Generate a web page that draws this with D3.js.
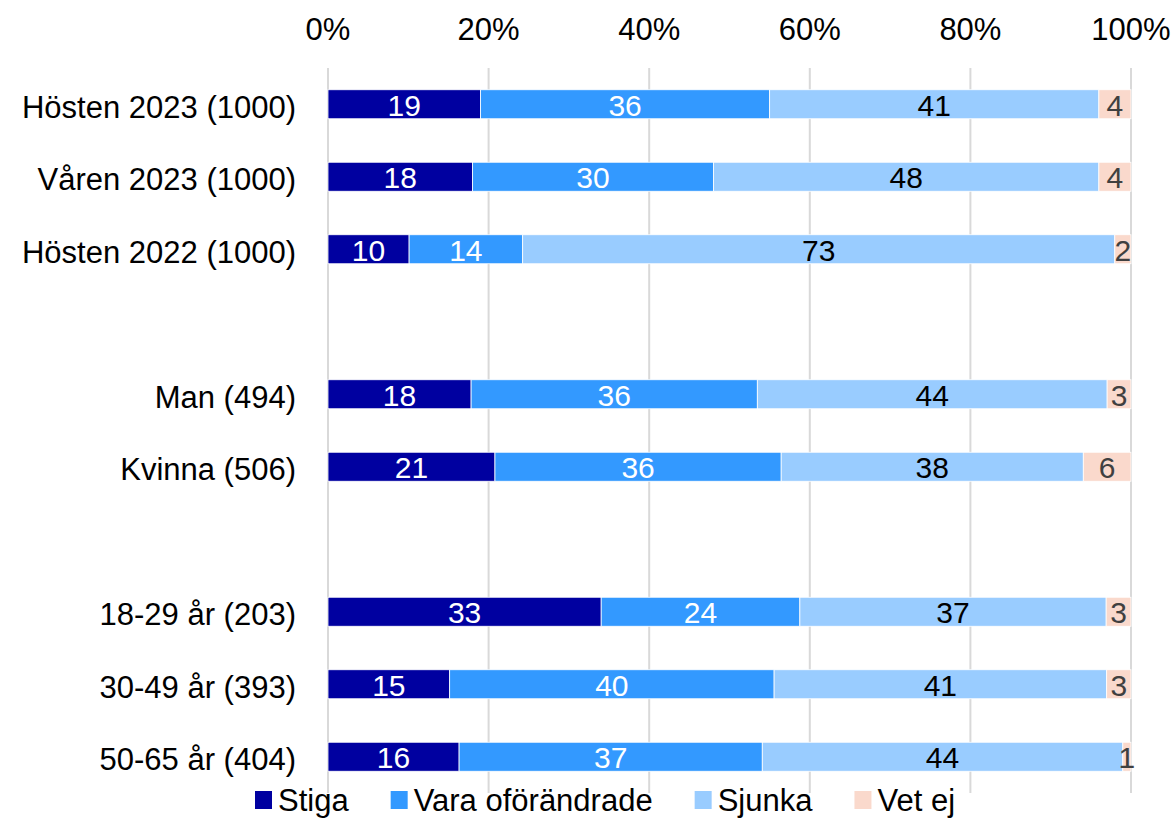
<!DOCTYPE html>
<html>
<head>
<meta charset="utf-8">
<script src="https://cdn.jsdelivr.net/npm/d3@7"></script>
<style>
  body { margin: 0; background: #fff; }
  svg { display: block; font-family: "Liberation Sans", Arial, sans-serif; }
</style>
</head>
<body>
<svg id="chart" width="1176" height="819"></svg>
<script>
const categories = ['Hösten 2023 (1000)', 'Våren 2023 (1000)', 'Hösten 2022 (1000)', '', 'Man (494)', 'Kvinna (506)', ' ', '18-29 år (203)', '30-49 år (393)', '50-65 år (404)'];
const seriesNames = ['Stiga', 'Vara oförändrade', 'Sjunka', 'Vet ej'];
const stiga  = [19, 18, 10, null, 18, 21, null, 33, 15, 16];
const vara   = [36, 30, 14, null, 36, 36, null, 24, 40, 37];
const sjunka = [41, 48, 73, null, 44, 38, null, 37, 41, 44];
const vetEj  = [4, 4, 2, null, 3, 6, null, 3, 3, 1];
const tickLabels = ['0%', '20%', '40%', '60%', '80%', '100%'];

const colors = ['#0000a0', '#3399ff', '#99ccff', '#fad9cc'];
const textColors = ['#ffffff', '#ffffff', '#000000', '#404040'];

const svg = d3.select('#chart');
const margin = { top: 68, left: 328, right: 45 };
const width = 1176;

const xScale = d3.scaleLinear().domain([0, 1]).range([margin.left, width - margin.right]);
const yScale = d3.scaleBand().domain(categories).range([68, 793]).paddingInner(0.6).paddingOuter(0.3);

// gridlines
svg.append('g')
  .selectAll('line')
  .data(d3.range(0, 1.0001, 0.2))
  .enter()
  .append('line')
  .attr('x1', d => xScale(d)).attr('x2', d => xScale(d))
  .attr('y1', 68).attr('y2', 793)
  .attr('stroke', '#d9d9d9')
  .attr('stroke-width', 2);

// top tick labels
svg.append('g')
  .selectAll('text')
  .data(tickLabels)
  .enter()
  .append('text')
  .attr('x', (d, i) => xScale(i * 0.2))
  .attr('y', 40)
  .attr('text-anchor', 'middle')
  .attr('font-size', 31)
  .attr('fill', '#000')
  .text(d => d);

const seriesValues = [stiga, vara, sjunka, vetEj];
const rows = categories.map((cat, i) => ({
  cat,
  values: seriesValues.map(s => s[i])
})).filter(r => r.values[0] !== null);

// category labels
svg.append('g')
  .selectAll('text')
  .data(rows)
  .enter()
  .append('text')
  .attr('x', 296)
  .attr('y', d => yScale(d.cat) + yScale.bandwidth() / 2)
  .attr('dy', '0.44em')
  .attr('text-anchor', 'end')
  .attr('font-size', 31)
  .attr('fill', '#000')
  .text(d => d.cat);

// bars (each row stretched to 100%)
rows.forEach(row => {
  const total = d3.sum(row.values);
  let acc = 0;
  const segs = row.values.map((v, k) => {
    const s = { k, v, x0: acc / total, x1: (acc + v) / total };
    acc += v;
    return s;
  });
  const g = svg.append('g').attr('class', 'bar');
  const y = yScale(row.cat);
  g.selectAll('rect')
    .data(segs)
    .enter()
    .append('rect')
    .attr('x', d => xScale(d.x0))
    .attr('y', y)
    .attr('width', d => xScale(d.x1) - xScale(d.x0))
    .attr('height', yScale.bandwidth())
    .attr('fill', d => colors[d.k])
    .attr('stroke', '#fff')
    .attr('stroke-width', 0.8);
  g.selectAll('text')
    .data(segs)
    .enter()
    .append('text')
    .attr('x', d => (xScale(d.x0) + xScale(d.x1)) / 2)
    .attr('y', y + yScale.bandwidth() / 2)
    .attr('dy', '0.38em')
    .attr('text-anchor', 'middle')
    .attr('font-size', 30)
    .attr('fill', d => textColors[d.k])
    .text(d => d.v);
});

// legend
const legend = svg.append('g').attr('transform', 'translate(255, 800)');
let lx = 0;
seriesNames.forEach((name, k) => {
  const item = legend.append('g').attr('transform', `translate(${lx}, 0)`);
  item.append('rect')
    .attr('x', 0).attr('y', -9)
    .attr('width', 17).attr('height', 18)
    .attr('fill', colors[k]);
  const t = item.append('text')
    .attr('x', 23)
    .attr('y', 0)
    .attr('dy', '0.34em')
    .attr('font-size', 31)
    .attr('fill', '#000')
    .text(name);
  const w = t.node().getComputedTextLength();
  lx += 23 + w + 42;
});
</script>
</body>
</html>
